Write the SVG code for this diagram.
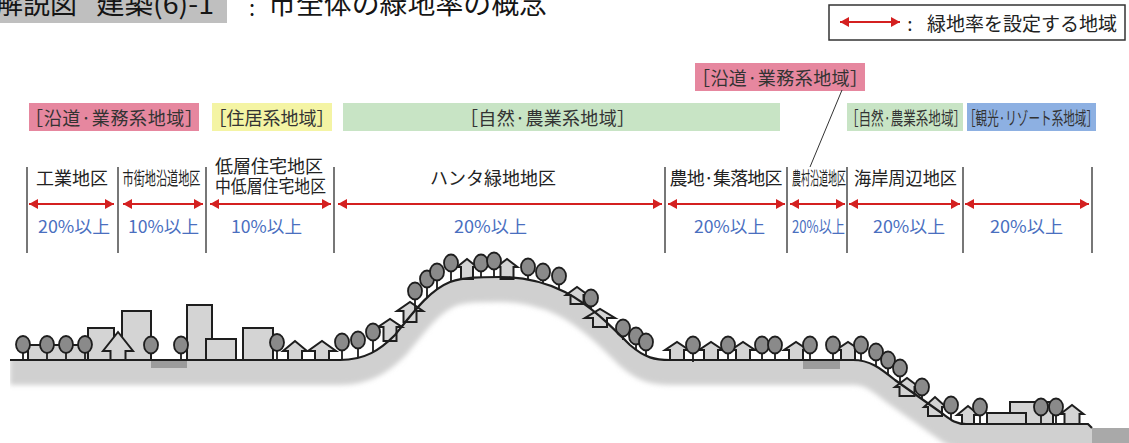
<svg xmlns="http://www.w3.org/2000/svg" width="1129" height="443" viewBox="0 0 1129 443">
  <defs>
    <style>
      text { font-family: 'Noto Sans CJK JP', 'Noto Sans CJK SC', sans-serif; }
      .title { font-size: 27px; fill: #151515; }
      .cat { font-size: 18px; fill: #333; }
      .zone { font-size: 18px; fill: #222; }
      .pct { font-size: 17px; fill: #4a6fbf; text-anchor: middle; }
      .sep { stroke: #555; stroke-width: 1.6; }
      .arr { stroke: #d42020; stroke-width: 2; fill: none; marker-start: url(#ah); marker-end: url(#ah); }
      .bld { fill: #d4d4d4; stroke: #1e1e1e; stroke-width: 2; stroke-linejoin: miter; }
      .crown { fill: #8a8a8a; stroke: #1e1e1e; stroke-width: 1.8; }
      .trunk { stroke: #1e1e1e; stroke-width: 1.8; fill: none; }
      .road { fill: #9c9c9c; }
    </style>
    <marker id="ah" viewBox="0 0 9 10" refX="9" refY="5" markerWidth="9" markerHeight="10" markerUnits="userSpaceOnUse" orient="auto-start-reverse">
      <path d="M0,0 L9,5 L0,10 Z" fill="#d42020"/>
    </marker>
    <filter id="soft" x="-5%" y="-30%" width="110%" height="160%">
      <feGaussianBlur stdDeviation="2.5"/>
    </filter>
    <clipPath id="below">
      <path d="M10,360 H340 C365,360 380,350 395,335 C415,310 430,290 450,282 C465,277 480,277 500,277 C525,277 545,282 565,292 C590,305 610,325 630,345 C645,358 655,360 670,360 H853 C870,360 880,368 895,380 L943,414 C951,420 956,424 966,424 H1088 L1092,428 L1092,443 L10,443 Z"/>
    </clipPath>
  </defs>

  <rect width="1129" height="443" fill="#ffffff"/>

  <!-- title -->
  <g id="title">
    <rect x="0" y="0" width="227" height="23" fill="#bfbfbf"/>
    <text class="title" x="-4" y="14">解説図</text>
    <text class="title" x="96" y="14" textLength="118" lengthAdjust="spacingAndGlyphs">建築(6)-1</text>
    <text x="252" y="16" font-size="22" fill="#151515" text-anchor="middle">:</text>
    <text class="title" x="268" y="14" textLength="279" lengthAdjust="spacingAndGlyphs">市全体の緑地率の概念</text>
  </g>

  <!-- legend -->
  <g id="legend">
    <rect x="829" y="5" width="296" height="35" fill="#fff" stroke="#333" stroke-width="1.5"/>
    <line class="arr" x1="840" y1="22" x2="900" y2="22"/>
    <text x="910" y="30.5" font-size="19" fill="#222" text-anchor="middle">:</text>
    <text x="927" y="30.5" font-size="19" fill="#222" textLength="190" lengthAdjust="spacingAndGlyphs">緑地率を設定する地域</text>
  </g>

  <!-- land-use categories -->
  <g id="cat-roadside">
    <rect x="29" y="103" width="170" height="28" fill="#e6879f"/>
    <text class="cat" x="25" y="125" textLength="178" lengthAdjust="spacing">［沿道·業務系地域］</text>
  </g>
  <g id="cat-residential">
    <rect x="212" y="103" width="120" height="28" fill="#f4f4a4"/>
    <text class="cat" x="271.5" y="125" text-anchor="middle">［住居系地域］</text>
  </g>
  <g id="cat-nature">
    <rect x="343" y="103" width="437" height="28" fill="#c8e4c5"/>
    <text class="cat" x="460" y="125" textLength="175" lengthAdjust="spacing">［自然·農業系地域］</text>
  </g>
  <g id="cat-roadside-rural">
    <rect x="695" y="63" width="170" height="28" fill="#e6879f"/>
    <text class="cat" x="692" y="85.4" textLength="176" lengthAdjust="spacing">［沿道·業務系地域］</text>
    <line x1="842" y1="90" x2="810" y2="167" stroke="#333" stroke-width="1"/>
  </g>
  <g id="cat-nature-coast">
    <rect x="847" y="103" width="116" height="28" fill="#c8e4c5"/>
    <text class="cat" x="846" y="125" textLength="120" lengthAdjust="spacingAndGlyphs">［自然·農業系地域］</text>
  </g>
  <g id="cat-resort">
    <rect x="967" y="103" width="129" height="28" fill="#8db0e2"/>
    <text class="cat" x="964" y="125" textLength="134" lengthAdjust="spacingAndGlyphs">［観光·リゾート系地域］</text>
  </g>

  <!-- zone separators -->
  <g id="separators">
    <line class="sep" x1="27" y1="167" x2="27" y2="253"/>
    <line class="sep" x1="118" y1="167" x2="118" y2="253"/>
    <line class="sep" x1="206" y1="167" x2="206" y2="253"/>
    <line class="sep" x1="334" y1="167" x2="334" y2="253"/>
    <line class="sep" x1="665" y1="167" x2="665" y2="253"/>
    <line class="sep" x1="787" y1="167" x2="787" y2="253"/>
    <line class="sep" x1="847" y1="167" x2="847" y2="253"/>
    <line class="sep" x1="963" y1="167" x2="963" y2="253"/>
    <line class="sep" x1="1092" y1="167" x2="1092" y2="253"/>
  </g>

  <!-- zones -->
  <g id="zone-industrial">
    <text class="zone" x="36" y="184.5">工業地区</text>
    <text class="pct" x="74" y="232.5" textLength="72" lengthAdjust="spacingAndGlyphs">20%以上</text>
  </g>
  <g id="zone-street">
    <text class="zone" x="122.5" y="184.5" font-size="17" textLength="78" lengthAdjust="spacingAndGlyphs">市街地沿道地区</text>
    <text class="pct" x="163.5" y="232.5" textLength="71" lengthAdjust="spacingAndGlyphs">10%以上</text>
  </g>
  <g id="zone-lowrise">
    <text class="zone" x="215" y="173">低層住宅地区</text>
    <text class="zone" x="215" y="193" textLength="111" lengthAdjust="spacingAndGlyphs">中低層住宅地区</text>
    <text class="pct" x="266.5" y="232.5" textLength="71" lengthAdjust="spacingAndGlyphs">10%以上</text>
  </g>
  <g id="zone-hanta">
    <text class="zone" x="493" y="185" text-anchor="middle">ハンタ緑地地区</text>
    <text class="pct" x="490.5" y="232.5" textLength="73" lengthAdjust="spacingAndGlyphs">20%以上</text>
  </g>
  <g id="zone-farm">
    <text class="zone" x="669.5" y="185" textLength="113" lengthAdjust="spacing">農地·集落地区</text>
    <text class="pct" x="729.5" y="232.5" textLength="71" lengthAdjust="spacingAndGlyphs">20%以上</text>
  </g>
  <g id="zone-rural-road">
    <text class="zone" x="792" y="184.5" font-size="16" textLength="54" lengthAdjust="spacingAndGlyphs">農村沿道地区</text>
    <text class="pct" x="818.5" y="232.5" textLength="53" lengthAdjust="spacingAndGlyphs">20%以上</text>
  </g>
  <g id="zone-coast">
    <text class="zone" x="854" y="185" textLength="103" lengthAdjust="spacingAndGlyphs">海岸周辺地区</text>
    <text class="pct" x="909" y="232.5" textLength="72" lengthAdjust="spacingAndGlyphs">20%以上</text>
  </g>
  <g id="zone-resort">
    <text class="pct" x="1026.5" y="232.5" textLength="73" lengthAdjust="spacingAndGlyphs">20%以上</text>
  </g>

  <!-- extent arrows -->
  <g id="connectors">
    <line class="arr" x1="29" y1="204" x2="114" y2="204"/>
    <line class="arr" x1="123" y1="204" x2="203" y2="204"/>
    <line class="arr" x1="210" y1="204" x2="331" y2="204"/>
    <line class="arr" x1="338" y1="204" x2="662" y2="204"/>
    <line class="arr" x1="668" y1="204" x2="785" y2="204"/>
    <line class="arr" x1="790" y1="204" x2="845" y2="204"/>
    <line class="arr" x1="849" y1="204" x2="960" y2="204"/>
    <line class="arr" x1="965" y1="204" x2="1089" y2="204"/>
  </g>

  <!-- cross-section of the city -->
  <g id="terrain">
    <g clip-path="url(#below)">
      <path d="M10,360 H340 C365,360 380,350 395,335 C415,310 430,290 450,282 C465,277 480,277 500,277 C525,277 545,282 565,292 C590,305 610,325 630,345 C645,358 655,360 670,360 H853 C870,360 880,368 895,380 L943,414 C951,420 956,424 966,424 H1088 L1092,428" transform="translate(0,10)" fill="none" stroke="#d0d0d0" stroke-width="30" filter="url(#soft)"/>
      <rect x="960" y="424" width="132" height="19" fill="#d0d0d0"/>
    </g>
    <rect x="1092" y="428" width="37" height="15" fill="#a9a9a9"/>
    <rect class="road" x="151" y="361" width="36" height="7"/>
    <rect class="road" x="803" y="361" width="37" height="8"/>
  </g>

  <g id="buildings">
    <rect class="bld" x="28" y="345" width="60" height="15"/>
    <rect class="bld" x="88" y="328" width="26" height="32"/>
    <rect class="bld" x="122" y="311" width="29" height="49"/>
    <rect class="bld" x="187" y="305" width="25" height="55"/>
    <rect class="bld" x="206" y="339" width="30" height="21"/>
    <rect class="bld" x="243" y="328" width="30" height="32"/>
    <rect class="bld" x="1010" y="402" width="43" height="22"/>
    <rect class="bld" x="987" y="413" width="39" height="11"/>
  </g>

  <g id="houses">
    <polygon class="bld" points="110.5,360 110.5,351 103,351 118,332 133,351 125.5,351 125.5,360"/>
    <polygon class="bld" points="288,360 288,351 283,351 295,341 307,351 302,351 302,360"/>
    <polygon class="bld" points="315,360 315,351 308,351 322,341 336,351 329,351 329,360"/>
    <polygon class="bld" points="383.5,341 383.5,327 378,327 390,319 402,327 396.5,327 396.5,341"/>
    <polygon class="bld" points="403.5,322 403.5,311 397,311 410,302 423,311 416.5,311 416.5,322"/>
    <polygon class="bld" points="461,279 461,267 457,267 467,259 477,267 473,267 473,279"/>
    <polygon class="bld" points="500.5,279 500.5,267 496.5,267 507,259 517.5,267 513.5,267 513.5,279"/>
    <polygon class="bld" points="570.5,304 570.5,295 566,295 577,287 588,295 583.5,295 583.5,304"/>
    <polygon class="bld" points="593,327 593,318 585,318 600,309 615,318 607,318 607,327"/>
    <polygon class="bld" points="670,360 670,350 665,350 677,342 689,350 684,350 684,360"/>
    <polygon class="bld" points="704,360 704,350 699,350 711,342 723,350 718,350 718,360"/>
    <polygon class="bld" points="736,360 736,350 731,350 743,342 755,350 750,350 750,360"/>
    <polygon class="bld" points="789,360 789,350 784,350 796,342 808,350 803,350 803,360"/>
    <polygon class="bld" points="841,360 841,350 836,350 848,342 860,350 855,350 855,360"/>
    <polygon class="bld" points="899.5,396 899.5,387 895,387 907,378 919,387 914.5,387 914.5,396"/>
    <polygon class="bld" points="928,416 928,407 924,407 935,397 946,407 942,407 942,416"/>
    <polygon class="bld" points="962,424 962,415 957,415 968,406 979,415 974,415 974,424"/>
    <polygon class="bld" points="1064.5,424 1064.5,414 1060.5,414 1072,405 1083.5,414 1079.5,414 1079.5,424"/>
  </g>

  <g id="trees">
    <path class="trunk" d="M23,353V360 M47,353V360 M66,353V360 M85,353V360 M151,353.5V360 M181,353.5V360 M277,351V360 M342,350.5V360 M358,348.5V357 M373,340.5V352"/>
    <path class="trunk" d="M415,299.5V310 M427,287.5V298 M437,280.5V289 M451,271.5V281 M481,271.5V278 M494,269.5V278 M528,275.5V280 M543,280.5V284 M559,284.5V289 M591,306.5V309 M623,336.5V340 M636,344.5V349 M646,350.5V355"/>
    <path class="trunk" d="M693,353.5V362 M728,353.5V361 M762,353.5V361 M775,353.5V361 M810,353.5V361 M833,353.5V361 M861,353.5V361 M876,360.5V366 M888,368.5V374 M900,376.5V384 M922,395.5V399 M951,413.5V419 M980,415.5V425 M1041,415.5V425 M1056,415.5V425"/>
    <ellipse class="crown" cx="23" cy="344.5" rx="7" ry="8.5"/>
    <ellipse class="crown" cx="47" cy="344.5" rx="7" ry="8.5"/>
    <ellipse class="crown" cx="66" cy="344.5" rx="7" ry="8.5"/>
    <ellipse class="crown" cx="85" cy="344.5" rx="7" ry="8.5"/>
    <ellipse class="crown" cx="151" cy="345" rx="7" ry="8.5"/>
    <ellipse class="crown" cx="181" cy="345" rx="7" ry="8.5"/>
    <ellipse class="crown" cx="277" cy="342.5" rx="7" ry="8.5"/>
    <ellipse class="crown" cx="342" cy="342" rx="7" ry="8.5"/>
    <ellipse class="crown" cx="358" cy="340" rx="7" ry="8.5"/>
    <ellipse class="crown" cx="373" cy="332" rx="7" ry="8.5"/>
    <ellipse class="crown" cx="415" cy="291" rx="7" ry="8.5"/>
    <ellipse class="crown" cx="427" cy="279" rx="7" ry="8.5"/>
    <ellipse class="crown" cx="437" cy="272" rx="7" ry="8.5"/>
    <ellipse class="crown" cx="451" cy="263" rx="7" ry="8.5"/>
    <ellipse class="crown" cx="481" cy="263" rx="7" ry="8.5"/>
    <ellipse class="crown" cx="494" cy="261" rx="7" ry="8.5"/>
    <ellipse class="crown" cx="528" cy="267" rx="7" ry="8.5"/>
    <ellipse class="crown" cx="543" cy="272" rx="7" ry="8.5"/>
    <ellipse class="crown" cx="559" cy="276" rx="7" ry="8.5"/>
    <ellipse class="crown" cx="591" cy="298" rx="7" ry="8.5"/>
    <ellipse class="crown" cx="623" cy="328" rx="7" ry="8.5"/>
    <ellipse class="crown" cx="636" cy="336" rx="7" ry="8.5"/>
    <ellipse class="crown" cx="646" cy="342" rx="7" ry="8.5"/>
    <ellipse class="crown" cx="693" cy="345" rx="7" ry="8.5"/>
    <ellipse class="crown" cx="728" cy="345" rx="7" ry="8.5"/>
    <ellipse class="crown" cx="762" cy="345" rx="7" ry="8.5"/>
    <ellipse class="crown" cx="775" cy="345" rx="7" ry="8.5"/>
    <ellipse class="crown" cx="810" cy="345" rx="7" ry="8.5"/>
    <ellipse class="crown" cx="833" cy="345" rx="7" ry="8.5"/>
    <ellipse class="crown" cx="861" cy="345" rx="7" ry="8.5"/>
    <ellipse class="crown" cx="876" cy="352" rx="7" ry="8.5"/>
    <ellipse class="crown" cx="888" cy="360" rx="7" ry="8.5"/>
    <ellipse class="crown" cx="900" cy="368" rx="7" ry="8.5"/>
    <ellipse class="crown" cx="922" cy="387" rx="7" ry="8.5"/>
    <ellipse class="crown" cx="951" cy="405" rx="7" ry="8.5"/>
    <ellipse class="crown" cx="980" cy="407" rx="7" ry="8.5"/>
    <ellipse class="crown" cx="1041" cy="407" rx="7" ry="8.5"/>
    <ellipse class="crown" cx="1056" cy="407" rx="7" ry="8.5"/>
  </g>

  <!-- ground line -->
  <path id="ground" d="M10,360 H340 C365,360 380,350 395,335 C415,310 430,290 450,282 C465,277 480,277 500,277 C525,277 545,282 565,292 C590,305 610,325 630,345 C645,358 655,360 670,360 H853 C870,360 880,368 895,380 L943,414 C951,420 956,424 966,424 H1088 L1092,428" fill="none" stroke="#1e1e1e" stroke-width="2.2"/>
</svg>
